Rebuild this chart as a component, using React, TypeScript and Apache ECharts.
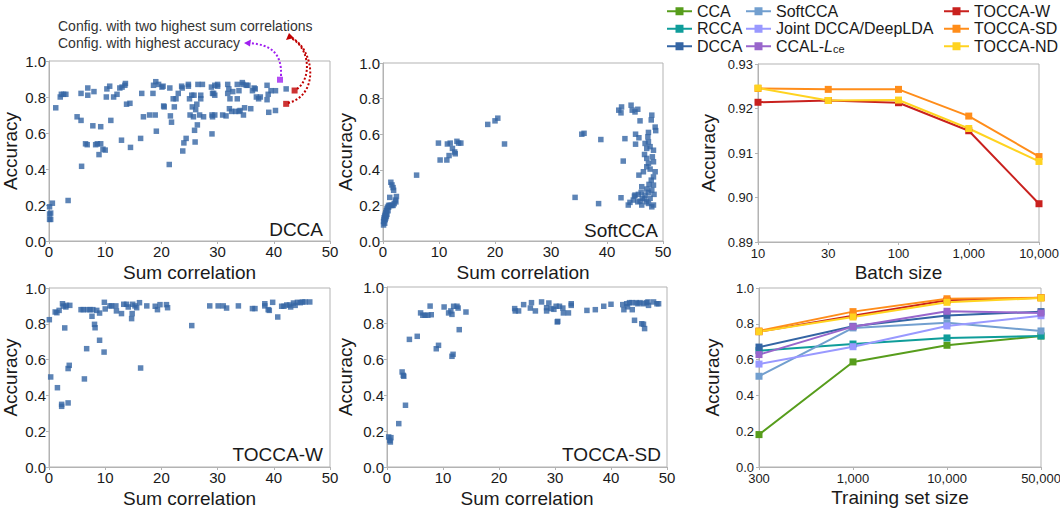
import React, { useEffect, useRef } from "react";
import * as echarts from "echarts";

// ---------- data ----------
const batchSizes = ["10", "30", "100", "1,000", "10,000"];
const batchToccaW = [0.9214, 0.9218, 0.9213, 0.915, 0.8986];
const batchToccaSD = [0.9245, 0.9243, 0.9243, 0.9183, 0.9092];
const batchToccaND = [0.9246, 0.9218, 0.9219, 0.9155, 0.9081];

const trainSizes = ["300", "1,000", "10,000", "50,000"];
const trainCCA = [0.181, 0.587, 0.68, 0.732];
const trainRCCA = [0.65, 0.687, 0.721, 0.732];
const trainDCCA = [0.67, 0.786, 0.847, 0.868];
const trainSoftCCA = [0.507, 0.777, 0.806, 0.76];
const trainJoint = [0.575, 0.672, 0.788, 0.845];
const trainCCAL = [0.628, 0.784, 0.87, 0.86];
const trainToccaW = [0.756, 0.845, 0.931, 0.946];
const trainToccaSD = [0.76, 0.868, 0.94, 0.946];
const trainToccaND = [0.756, 0.838, 0.92, 0.944];

const dccaPoints = [
  [0.1, 0.19], [0.1, 0.15], [0.1, 0.12], [0.3, 0.12], [0.3, 0.155], [0.6, 0.21], [3.4, 0.225],
  [1.2, 0.74], [2.0, 0.8], [2.2, 0.815], [2.6, 0.815], [3.0, 0.815],
  [5.0, 0.69], [5.7, 0.82], [5.7, 0.67], [5.8, 0.415], [6.5, 0.54], [6.8, 0.535], [6.9, 0.85], [6.9, 0.81],
  [7.8, 0.64], [8.0, 0.83], [8.3, 0.535], [8.6, 0.54], [8.9, 0.48], [9.2, 0.635], [9.2, 0.54], [9.6, 0.51],
  [10.0, 0.505], [10.2, 0.8], [10.3, 0.845], [10.8, 0.86], [11.0, 0.67], [11.5, 0.8], [12.1, 0.815],
  [12.6, 0.85], [12.9, 0.56], [13.0, 0.855], [13.5, 0.865], [13.6, 0.875], [13.8, 0.76], [14.4, 0.765],
  [14.5, 0.52], [16.3, 0.57], [16.5, 0.82], [16.8, 0.69], [17.9, 0.7], [18.5, 0.82], [18.6, 0.865],
  [18.9, 0.7], [19.0, 0.885], [19.1, 0.61], [19.5, 0.87], [20.1, 0.855], [20.3, 0.86], [20.4, 0.75],
  [20.5, 0.745], [21.4, 0.425], [21.5, 0.85], [21.6, 0.695], [21.8, 0.66], [22.1, 0.79], [22.3, 0.745],
  [22.6, 0.79], [23.0, 0.82], [23.6, 0.86], [23.7, 0.85], [23.8, 0.5], [24.0, 0.545], [24.4, 0.57],
  [24.8, 0.87], [24.8, 0.86], [25.0, 0.79], [25.1, 0.7], [25.4, 0.81], [25.5, 0.745], [25.7, 0.69],
  [25.8, 0.81], [25.9, 0.615], [26.0, 0.55], [26.1, 0.73], [26.3, 0.76], [26.4, 0.645], [26.5, 0.87],
  [26.8, 0.7], [27.0, 0.81], [27.0, 0.79], [27.3, 0.87], [27.5, 0.69], [28.9, 0.855], [29.0, 0.7],
  [29.1, 0.69], [29.0, 0.595], [29.1, 0.82], [29.3, 0.82], [29.5, 0.81], [29.5, 0.865], [29.5, 0.7],
  [30.0, 0.86], [30.0, 0.87], [30.9, 0.7], [31.5, 0.695], [31.8, 0.87], [31.8, 0.82], [32.0, 0.845],
  [32.1, 0.735], [32.2, 0.79], [32.5, 0.72], [32.7, 0.83], [33.2, 0.72], [33.5, 0.87], [33.5, 0.79],
  [33.8, 0.72], [33.8, 0.835], [34.0, 0.725], [34.4, 0.88], [34.5, 0.87], [34.6, 0.7], [34.8, 0.74],
  [35.1, 0.865], [35.4, 0.865], [35.9, 0.735], [36.2, 0.835], [36.5, 0.85], [36.7, 0.845], [36.9, 0.8],
  [37.3, 0.79], [37.6, 0.8], [38.8, 0.865], [38.8, 0.785], [39.0, 0.815], [39.1, 0.715], [39.5, 0.835],
  [40.3, 0.835], [40.3, 0.725], [42.2, 0.845],
];
const dccaBestAccuracy = [[41.1, 0.896]];
const dccaBestCorrelation = [[43.7, 0.836], [42.2, 0.762]];

const softccaPoints = [
  [0.1, 0.09], [0.1, 0.11], [0.2, 0.12], [0.2, 0.13], [0.3, 0.1], [0.3, 0.14], [0.4, 0.15], [0.4, 0.12],
  [0.5, 0.13], [0.5, 0.16], [0.6, 0.14], [0.6, 0.17], [0.7, 0.18], [0.7, 0.15], [0.8, 0.19], [0.9, 0.17],
  [1.0, 0.19], [1.0, 0.2], [1.2, 0.2], [1.4, 0.2], [1.6, 0.2], [1.8, 0.2], [2.0, 0.21], [1.2, 0.245],
  [1.4, 0.33], [1.6, 0.315], [1.8, 0.3], [1.9, 0.285], [2.2, 0.23], [2.4, 0.25], [2.3, 0.22],
  [6.0, 0.37],
  [9.9, 0.55], [10.2, 0.455], [11.4, 0.455], [11.5, 0.545], [11.8, 0.48], [12.0, 0.55], [12.4, 0.52],
  [12.8, 0.5], [12.9, 0.49], [13.2, 0.56], [13.5, 0.55], [13.9, 0.55],
  [18.7, 0.655], [20.0, 0.675], [20.5, 0.69], [21.7, 0.545],
  [34.3, 0.245], [35.5, 0.6], [35.9, 0.605], [38.5, 0.21], [38.9, 0.57],
  [44.3, 0.763], [44.5, 0.735], [45.0, 0.725], [45.5, 0.74], [42.6, 0.753], [42.1, 0.735], [42.5, 0.72],
  [45.9, 0.675], [48.0, 0.707], [47.9, 0.68], [48.6, 0.64], [48.7, 0.62], [43.2, 0.575], [45.1, 0.6],
  [45.7, 0.58], [47.4, 0.61], [47.3, 0.585], [47.4, 0.557], [47.7, 0.53], [45.1, 0.544], [46.8, 0.548],
  [47.1, 0.52], [48.3, 0.51], [48.1, 0.473], [46.7, 0.486], [47.1, 0.464], [42.9, 0.449], [47.4, 0.436],
  [48.3, 0.445], [47.1, 0.417], [47.7, 0.404], [46.5, 0.389], [48.6, 0.389], [45.7, 0.37], [48.3, 0.36],
  [47.9, 0.342], [47.5, 0.318], [48.3, 0.314], [46.2, 0.305], [47.1, 0.292], [48.0, 0.286], [47.4, 0.273],
  [46.1, 0.273], [46.8, 0.258], [45.6, 0.262], [48.4, 0.262], [47.7, 0.24], [46.3, 0.24], [45.9, 0.224],
  [45.0, 0.258], [47.1, 0.22], [47.4, 0.211], [48.3, 0.202], [45.5, 0.22], [44.1, 0.217], [43.8, 0.202],
  [44.7, 0.23], [44.9, 0.252], [42.5, 0.243], [46.2, 0.202], [46.7, 0.236], [48.0, 0.192],
];

const toccaWPoints = [
  [0.06, 0.823], [0.3, 0.503], [1.1, 0.866], [1.4, 0.862], [1.5, 0.443], [1.8, 0.875], [2.25, 0.339],
  [2.25, 0.35], [2.4, 0.912], [2.55, 0.899], [2.8, 0.777], [3.0, 0.894], [3.1, 0.903], [3.4, 0.358],
  [3.4, 0.55], [3.6, 0.568], [3.7, 0.903], [5.7, 0.879], [6.1, 0.879], [6.3, 0.492], [6.7, 0.661],
  [6.8, 0.879], [7.3, 0.879], [7.65, 0.842], [7.8, 0.879], [8.1, 0.797], [8.2, 0.778], [8.5, 0.875],
  [9.0, 0.86], [9.0, 0.708], [9.8, 0.642], [9.85, 0.92], [10.0, 0.883], [10.85, 0.9], [11.15, 0.9],
  [11.9, 0.9], [12.0, 0.872], [12.9, 0.857], [13.3, 0.909], [13.8, 0.909], [14.1, 0.894], [14.7, 0.829],
  [14.8, 0.857], [14.9, 0.909], [15.3, 0.9], [15.6, 0.89], [16.1, 0.918], [16.3, 0.553], [17.4, 0.9],
  [18.9, 0.898], [19.3, 0.879], [19.75, 0.907], [20.9, 0.907], [21.1, 0.89], [25.4, 0.79], [28.6, 0.9],
  [30.1, 0.9], [31.0, 0.9], [31.6, 0.888], [33.7, 0.9], [36.2, 0.885], [36.65, 0.885], [38.4, 0.912],
  [38.4, 0.9], [39.0, 0.879], [39.2, 0.875], [39.8, 0.92], [40.7, 0.838], [41.4, 0.898], [41.8, 0.898],
  [42.3, 0.905], [42.8, 0.905], [43.0, 0.894], [43.5, 0.916], [43.8, 0.903], [44.2, 0.92], [44.7, 0.918],
  [45.1, 0.922], [45.55, 0.922], [46.4, 0.922],
];

const toccaSDPoints = [
  [0.3, 0.167], [0.5, 0.148], [0.6, 0.139], [0.7, 0.163], [2.1, 0.241], [2.7, 0.528], [2.9, 0.509],
  [3.0, 0.504], [3.3, 0.343], [4.0, 0.709], [5.4, 0.726], [6.0, 0.856], [6.4, 0.843], [6.8, 0.843],
  [7.3, 0.843], [7.7, 0.894], [7.9, 0.846], [8.8, 0.657], [9.2, 0.676], [10.2, 0.889], [11.0, 0.856],
  [11.4, 0.867], [11.6, 0.848], [11.6, 0.615], [11.8, 0.626], [11.9, 0.893], [12.5, 0.893], [12.7, 0.883],
  [12.9, 0.763], [14.1, 0.861], [22.8, 0.88], [22.9, 0.867], [23.5, 0.867], [24.4, 0.902], [25.6, 0.883],
  [25.8, 0.913], [26.5, 0.867], [27.6, 0.917], [28.5, 0.885], [28.5, 0.867], [28.9, 0.911], [29.3, 0.88],
  [29.8, 0.876], [30.4, 0.806], [30.5, 0.809], [30.2, 0.893], [30.8, 0.893], [31.4, 0.883], [31.5, 0.856],
  [32.4, 0.856], [32.9, 0.907], [32.9, 0.898], [35.7, 0.87], [37.2, 0.874], [38.7, 0.893], [40.0, 0.904],
  [42.1, 0.902], [42.3, 0.874], [42.8, 0.907], [42.95, 0.89], [43.3, 0.913], [43.75, 0.913], [43.8, 0.874],
  [44.2, 0.815], [44.5, 0.913], [44.8, 0.907], [45.2, 0.913], [45.5, 0.796], [45.8, 0.793], [46.0, 0.769],
  [45.8, 0.907], [46.3, 0.913], [46.6, 0.917], [46.7, 0.898], [47.6, 0.917], [48.2, 0.907], [48.5, 0.907],
];

// ---------- styling ----------
const FONT = "Liberation Sans";
const TEXT = "#1a1a1a";
const FRAME = "#b3b3b3";
const POINT = "#3465a4";
const COLORS: Record<string, string> = {
  CCA: "#579d1c",
  RCCA: "#0f9d9a",
  DCCA: "#3465a4",
  SoftCCA: "#729fcf",
  "Joint DCCA/DeepLDA": "#9999ff",
  "CCAL-Lce": "#9966cc",
  "TOCCA-W": "#c9211e",
  "TOCCA-SD": "#ff8d1a",
  "TOCCA-ND": "#ffd320",
};

const grids = [
  { left: 49, top: 61, width: 281, height: 180 },
  { left: 383, top: 63, width: 280, height: 178 },
  { left: 758, top: 64, width: 281, height: 178 },
  { left: 49, top: 288, width: 281, height: 179 },
  { left: 387, top: 287, width: 280, height: 180 },
  { left: 759, top: 288, width: 282, height: 179 },
].map((g) => ({ ...g, show: true, borderColor: FRAME, borderWidth: 1, outerBoundsMode: "none" }));

const axisCommon = {
  axisLine: { show: true, lineStyle: { color: FRAME, width: 1 } },
  axisTick: { show: true, length: 3, lineStyle: { color: FRAME } },
  splitLine: { show: false },
  axisLabel: { color: TEXT, fontSize: 13, fontFamily: FONT, margin: 5 },
  nameTextStyle: { color: TEXT, fontSize: 19, fontFamily: FONT },
  nameLocation: "middle",
};
const scatterLabel = { color: TEXT, fontSize: 15, fontFamily: FONT, margin: 3 };

function sumCorrX(gridIndex: number) {
  return {
    ...axisCommon,
    type: "value",
    gridIndex,
    min: 0,
    max: 50,
    interval: 10,
    name: "Sum correlation",
    nameGap: 22,
    axisLabel: scatterLabel,
  };
}
function accY(gridIndex: number, gap: number, fontSize = 15, margin = 3) {
  return {
    ...axisCommon,
    type: "value",
    gridIndex,
    min: 0,
    max: 1,
    interval: 0.2,
    name: "Accuracy",
    nameGap: gap,
    axisLabel: { ...scatterLabel, fontSize, margin, formatter: (v: number) => v.toFixed(1) },
  };
}

function scatter(name: string, data: number[][], idx: number, color = POINT, size = 5.5) {
  return {
    type: "scatter",
    name,
    xAxisIndex: idx,
    yAxisIndex: idx,
    data,
    symbol: "rect",
    symbolSize: size,
    itemStyle: { color },
  };
}
function line(name: string, data: number[], idx: number) {
  return {
    type: "line",
    name,
    xAxisIndex: idx,
    yAxisIndex: idx,
    data,
    symbol: "rect",
    symbolSize: 7,
    showSymbol: true,
    lineStyle: { width: 2, color: COLORS[name] },
    itemStyle: { color: COLORS[name] },
  };
}

function legend(left: number, names: string[]) {
  return {
    orient: "vertical",
    left,
    top: 3,
    padding: [0, 5],
    itemWidth: 25,
    itemHeight: 10,
    itemGap: 1,
    selectedMode: false,
    data: names,
    formatter: (n: string) => (n === "CCAL-Lce" ? "CCAL-{i|L}{s|ce}" : n),
    textStyle: {
      color: TEXT,
      fontSize: 16,
      fontFamily: FONT,
      lineHeight: 16.5,
      rich: {
        i: { fontStyle: "italic", fontSize: 16, fontFamily: FONT, color: TEXT },
        s: { fontSize: 11, fontFamily: FONT, color: TEXT, verticalAlign: "bottom", padding: [7, 0, 0, 0] },
      },
    },
  };
}

function panelLabel(text: string, right: number, y: number) {
  return {
    type: "text",
    x: right,
    y,
    style: { text, fill: TEXT, font: `19px '${FONT}'`, textAlign: "right", textVerticalAlign: "middle" },
  };
}

const option = {
  animation: false,
  backgroundColor: "#ffffff",
  grid: grids,
  legend: [
    legend(661, ["CCA", "RCCA", "DCCA"]),
    legend(740, ["SoftCCA", "Joint DCCA/DeepLDA", "CCAL-Lce"]),
    legend(938, ["TOCCA-W", "TOCCA-SD", "TOCCA-ND"]),
  ],
  xAxis: [
    sumCorrX(0),
    sumCorrX(1),
    {
      ...axisCommon,
      type: "category",
      gridIndex: 2,
      data: batchSizes,
      boundaryGap: false,
      name: "Batch size",
      nameGap: 21,
    },
    sumCorrX(3),
    sumCorrX(4),
    {
      ...axisCommon,
      type: "category",
      gridIndex: 5,
      data: trainSizes,
      boundaryGap: false,
      name: "Training set size",
      nameGap: 21,
    },
  ],
  yAxis: [
    accY(0, 29),
    accY(1, 28),
    {
      ...axisCommon,
      type: "value",
      gridIndex: 2,
      min: 0.89,
      max: 0.93,
      interval: 0.01,
      name: "Accuracy",
      nameGap: 40,
      axisLabel: { ...axisCommon.axisLabel, formatter: (v: number) => v.toFixed(2) },
    },
    accY(3, 29),
    accY(4, 32),
    accY(5, 37, 13, 5),
  ],
  series: [
    scatter("DCCA configs", dccaPoints, 0),
    scatter("Highest accuracy", dccaBestAccuracy, 0, "#a020f0", 6),
    scatter("Highest sum correlations", dccaBestCorrelation, 0, "#c00000", 6),
    scatter("SoftCCA configs", softccaPoints, 1),
    scatter("TOCCA-W configs", toccaWPoints, 3),
    scatter("TOCCA-SD configs", toccaSDPoints, 4),
    line("CCA", trainCCA, 5),
    line("RCCA", trainRCCA, 5),
    line("DCCA", trainDCCA, 5),
    line("SoftCCA", trainSoftCCA, 5),
    line("Joint DCCA/DeepLDA", trainJoint, 5),
    line("CCAL-Lce", trainCCAL, 5),
    line("TOCCA-W", trainToccaW, 5),
    line("TOCCA-SD", trainToccaSD, 5),
    line("TOCCA-ND", trainToccaND, 5),
    line("TOCCA-W", batchToccaW, 2),
    line("TOCCA-SD", batchToccaSD, 2),
    line("TOCCA-ND", batchToccaND, 2),
  ],
  graphic: [
    {
      type: "text",
      x: 58,
      y: 26,
      style: {
        text: "Config. with two highest sum correlations",
        fill: "#333333",
        font: `14px '${FONT}'`,
        textVerticalAlign: "middle",
      },
    },
    {
      type: "text",
      x: 58,
      y: 43,
      style: {
        text: "Config. with highest accuracy",
        fill: "#333333",
        font: `14px '${FONT}'`,
        textVerticalAlign: "middle",
      },
    },
    {
      type: "bezierCurve",
      shape: { x1: 281, y1: 76, cpx1: 282, cpy1: 52, cpx2: 270, cpy2: 45, x2: 250, y2: 43 },
      style: { stroke: "#a020f0", lineWidth: 2, lineDash: [2, 2], fill: "none" },
    },
    {
      type: "polygon",
      shape: { points: [[244, 43], [251, 39.5], [250, 46.5]] },
      style: { fill: "#a020f0" },
    },
    {
      type: "bezierCurve",
      shape: { x1: 297, y1: 89, cpx1: 312, cpy1: 78, cpx2: 310, cpy2: 48, x2: 291, y2: 38 },
      style: { stroke: "#c00000", lineWidth: 2, lineDash: [2, 2], fill: "none" },
    },
    {
      type: "bezierCurve",
      shape: { x1: 288, y1: 103, cpx1: 320, cpy1: 95, cpx2: 314, cpy2: 50, x2: 292, y2: 38 },
      style: { stroke: "#c00000", lineWidth: 2, lineDash: [2, 2], fill: "none" },
    },
    {
      type: "polygon",
      shape: { points: [[289, 33], [286, 40], [294, 38]] },
      style: { fill: "#c00000" },
    },
    panelLabel("DCCA", 323, 229),
    panelLabel("SoftCCA", 658, 230),
    panelLabel("TOCCA-W", 323, 454),
    panelLabel("TOCCA-SD", 661, 454),
  ],
};

export default function App() {
  const ref = useRef<HTMLDivElement>(null);
  useEffect(() => {
    if (!ref.current) return;
    const chart = echarts.init(ref.current, undefined, { renderer: "svg" });
    chart.setOption(option as any);
    return () => chart.dispose();
  }, []);
  return (
    <div
      ref={ref}
      style={{ position: "fixed", left: 0, top: 0, width: 1060, height: 508, background: "#fff" }}
    />
  );
}
